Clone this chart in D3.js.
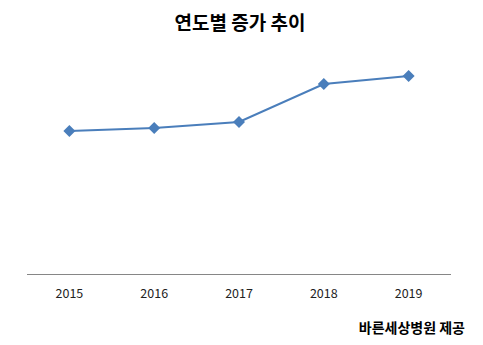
<!DOCTYPE html>
<html><head><meta charset="utf-8">
<script src="https://cdn.jsdelivr.net/npm/d3@7"></script>
<style>body{margin:0;background:#fff}svg{display:block}</style>
</head><body>
<svg id="c" width="483" height="345"></svg>
<script>
const years = ["2015","2016","2017","2018","2019"];
const values = [143, 146, 152, 190, 198];
const titleText = "연도별 증가 추이";
const sourceText = "바른세상병원 제공";

const svg = d3.select("#c");
const font = "'Noto Sans CJK KR', 'Noto Sans', sans-serif";
const x = d3.scaleBand().domain(years).range([27, 451]);
const y = d3.scaleLinear().domain([0, 200]).range([274, 74]);

svg.append("text").attr("x", 240).attr("y", 30).attr("text-anchor", "middle")
  .attr("font-family", font).attr("font-weight", "bold").attr("font-size", 19)
  .attr("fill", "#000").text(titleText);

const ax = svg.append("g").attr("transform", "translate(0,274)")
  .call(d3.axisBottom(x).tickSize(0).tickPadding(15));
ax.select(".domain").attr("stroke", "#868686").attr("d", "M27,0.5H451");
ax.selectAll("text").attr("font-family", font).attr("font-size", 12.5).attr("fill", "#222");

const cx = d => x(d) + x.bandwidth() / 2;
const line = d3.line().x((d, i) => cx(years[i])).y(d => y(d));
svg.append("path").datum(values).attr("d", line).attr("fill", "none")
  .attr("stroke", "#4a7ebb").attr("stroke-width", 2.2);

svg.selectAll("path.m").data(values).enter().append("path").attr("class", "m")
  .attr("transform", (d, i) => `translate(${cx(years[i])},${y(d)})`)
  .attr("d", "M0,-6L6,0L0,6L-6,0Z").attr("fill", "#4a7ebb");

svg.append("text").attr("x", 465).attr("y", 333).attr("text-anchor", "end")
  .attr("font-family", font).attr("font-weight", "bold").attr("font-size", 14)
  .attr("fill", "#000").text(sourceText);
</script>
</body></html>
